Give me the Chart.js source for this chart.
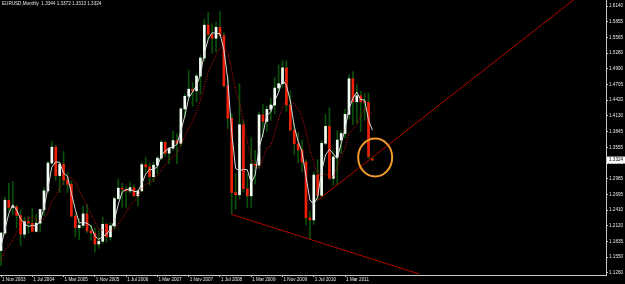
<!DOCTYPE html>
<html>
<head>
<meta charset="utf-8">
<title>EURUSD,Monthly</title>
<script src="https://cdn.jsdelivr.net/npm/chart.js@4.4.0/dist/chart.umd.min.js"></script>
<style>
  html, body { margin: 0; padding: 0; background: #000; }
  #wrap { position: relative; width: 625px; height: 284px; }
</style>
</head>
<body>
<div id="wrap"><canvas id="chart"></canvas></div>
<script>
// EURUSD monthly candles, one entry per month from Nov 2003 to Oct 2011
const header = 'EURUSD,Monthly  1.3344 1.3372 1.3313 1.3324';

const open = [
    1.1670, 1.1990,
    1.2590, 1.2460, 1.2470, 1.2310, 1.1970, 1.2200, 1.2170, 1.2020, 1.2170, 1.2420, 1.2760, 1.3270,
    1.3560, 1.3040, 1.3250, 1.2960, 1.2880, 1.2300, 1.2090, 1.2130, 1.2340, 1.2030, 1.1990, 1.1790,
    1.1840, 1.2150, 1.1920, 1.2120, 1.2620, 1.2810, 1.2790, 1.2760, 1.2820, 1.2670, 1.2760, 1.3240,
    1.3200, 1.3020, 1.3230, 1.3360, 1.3650, 1.3450, 1.3540, 1.3680, 1.3630, 1.4260, 1.4490, 1.4620,
    1.4590, 1.4860, 1.5190, 1.5790, 1.5620, 1.5550, 1.5750, 1.5600, 1.4680, 1.4090, 1.2730, 1.2690,
    1.3970, 1.2800, 1.2670, 1.3250, 1.3230, 1.4150, 1.4030, 1.4250, 1.4330, 1.4640, 1.4720, 1.5010,
    1.4330, 1.3870, 1.3620, 1.3510, 1.3290, 1.2270, 1.2230, 1.3050, 1.2680, 1.3630, 1.3940, 1.2990,
    1.3380, 1.3690, 1.3810, 1.4160, 1.4810, 1.4390, 1.4500, 1.4390, 1.4380, 1.3344
];
const high = [
    1.2000, 1.2650,
    1.2900, 1.2930, 1.2500, 1.2420, 1.2280, 1.2290, 1.2440, 1.2330, 1.2430, 1.2820, 1.3300, 1.3670,
    1.3590, 1.3280, 1.3480, 1.3100, 1.2940, 1.2350, 1.2260, 1.2480, 1.2510, 1.2140, 1.2080, 1.2040,
    1.2280, 1.2170, 1.2180, 1.2650, 1.2980, 1.2900, 1.2840, 1.2920, 1.2870, 1.2790, 1.3290, 1.3370,
    1.3270, 1.3290, 1.3390, 1.3680, 1.3660, 1.3550, 1.3850, 1.3810, 1.4280, 1.4530, 1.4970, 1.4750,
    1.4900, 1.5240, 1.5900, 1.6020, 1.5820, 1.5840, 1.6040, 1.5650, 1.4870, 1.4170, 1.3080, 1.4720,
    1.4060, 1.3070, 1.3740, 1.3500, 1.4200, 1.4340, 1.4310, 1.4450, 1.4840, 1.5060, 1.5140, 1.5140,
    1.4580, 1.3990, 1.3820, 1.3690, 1.3330, 1.2390, 1.3110, 1.3330, 1.3680, 1.4160, 1.4280, 1.3500,
    1.3860, 1.3860, 1.4250, 1.4880, 1.4940, 1.4700, 1.4580, 1.4550, 1.4550, 1.3372
];
const low = [
    1.1400, 1.1960,
    1.2390, 1.2320, 1.2080, 1.1760, 1.1900, 1.1990, 1.2010, 1.2010, 1.2010, 1.2310, 1.2730, 1.3250,
    1.2950, 1.2730, 1.2870, 1.2730, 1.2290, 1.1920, 1.1870, 1.2090, 1.1990, 1.1860, 1.1640, 1.1710,
    1.1800, 1.1820, 1.1860, 1.2070, 1.2600, 1.2460, 1.2460, 1.2720, 1.2660, 1.2480, 1.2750, 1.3100,
    1.2870, 1.2920, 1.3080, 1.3330, 1.3400, 1.3260, 1.3500, 1.3260, 1.3580, 1.4100, 1.4440, 1.4310,
    1.4380, 1.4530, 1.5130, 1.5520, 1.5280, 1.5300, 1.5570, 1.4660, 1.3900, 1.2330, 1.2420, 1.2620,
    1.2740, 1.2450, 1.2460, 1.2890, 1.3170, 1.3750, 1.3850, 1.4050, 1.4170, 1.4580, 1.4640, 1.4220,
    1.3860, 1.3430, 1.3270, 1.3110, 1.2140, 1.1876, 1.2150, 1.2590, 1.2640, 1.3600, 1.2970, 1.2860,
    1.2870, 1.3440, 1.3730, 1.4080, 1.3970, 1.4000, 1.3840, 1.4050, 1.3360, 1.3313
];
const close = [
    1.1990, 1.2590,
    1.2460, 1.2470, 1.2310, 1.1970, 1.2200, 1.2170, 1.2020, 1.2170, 1.2420, 1.2760, 1.3270, 1.3560,
    1.3040, 1.3250, 1.2960, 1.2880, 1.2300, 1.2090, 1.2130, 1.2340, 1.2030, 1.1990, 1.1790, 1.1840,
    1.2150, 1.1920, 1.2120, 1.2620, 1.2810, 1.2790, 1.2760, 1.2820, 1.2670, 1.2760, 1.3240, 1.3200,
    1.3020, 1.3230, 1.3360, 1.3650, 1.3450, 1.3540, 1.3680, 1.3630, 1.4260, 1.4490, 1.4620, 1.4590,
    1.4860, 1.5190, 1.5790, 1.5620, 1.5550, 1.5750, 1.5600, 1.4680, 1.4090, 1.2730, 1.2690, 1.3970,
    1.2800, 1.2670, 1.3250, 1.3230, 1.4150, 1.4030, 1.4250, 1.4330, 1.4640, 1.4720, 1.5010, 1.4330,
    1.3870, 1.3620, 1.3510, 1.3290, 1.2270, 1.2230, 1.3050, 1.2680, 1.3630, 1.3940, 1.2990, 1.3380,
    1.3690, 1.3810, 1.4160, 1.4810, 1.4390, 1.4500, 1.4390, 1.4380, 1.3390, 1.3324
];

// fast moving average (white line)
const maFast = [
    1.1743, 1.2057,
    1.2347, 1.2507, 1.2413, 1.2250, 1.2160, 1.2113, 1.2130, 1.2120, 1.2203, 1.2450, 1.2817, 1.3197,
    1.3290, 1.3283, 1.3083, 1.3030, 1.2713, 1.2423, 1.2173, 1.2187, 1.2167, 1.2120, 1.1937, 1.1873,
    1.1927, 1.1970, 1.2063, 1.2220, 1.2517, 1.2740, 1.2787, 1.2790, 1.2750, 1.2750, 1.2890, 1.3067,
    1.3153, 1.3150, 1.3203, 1.3413, 1.3487, 1.3547, 1.3557, 1.3617, 1.3857, 1.4127, 1.4457, 1.4567,
    1.4690, 1.4880, 1.5280, 1.5533, 1.5653, 1.5640, 1.5633, 1.5343, 1.4790, 1.3833, 1.3170, 1.3130,
    1.3153, 1.3147, 1.2907, 1.3050, 1.3543, 1.3803, 1.4143, 1.4203, 1.4407, 1.4563, 1.4790, 1.4687,
    1.4403, 1.3940, 1.3667, 1.3473, 1.3023, 1.2597, 1.2517, 1.2653, 1.3120, 1.3417, 1.3520, 1.3437,
    1.3353, 1.3627, 1.3887, 1.4260, 1.4453, 1.4567, 1.4427, 1.4423, 1.4053, 1.3870
];
// slow moving average (red dotted line)
const maSlow = [
    1.1486, 1.1666,
    1.1748, 1.1870, 1.2004, 1.2129, 1.2198, 1.2270, 1.2274, 1.2221, 1.2216, 1.2253, 1.2373, 1.2571,
    1.2676, 1.2811, 1.2929, 1.3018, 1.3003, 1.2919, 1.2776, 1.2624, 1.2498, 1.2340, 1.2194, 1.2064,
    1.2045, 1.2024, 1.2023, 1.2058, 1.2155, 1.2255, 1.2376, 1.2499, 1.2564, 1.2669, 1.2809, 1.2881,
    1.2908, 1.2963, 1.3038, 1.3141, 1.3239, 1.3336, 1.3391, 1.3445, 1.3600, 1.3758, 1.3915, 1.4033,
    1.4209, 1.4415, 1.4679, 1.4928, 1.5089, 1.5246, 1.5369, 1.5380, 1.5284, 1.4976, 1.4589, 1.4383,
    1.4039, 1.3654, 1.3360, 1.3179, 1.3186, 1.3349, 1.3544, 1.3589, 1.3819, 1.4075, 1.4295, 1.4433,
    1.4398, 1.4346, 1.4254, 1.4124, 1.3828, 1.3516, 1.3271, 1.3065, 1.3035, 1.3075, 1.3010, 1.3021,
    1.3199, 1.3396, 1.3535, 1.3801, 1.3896, 1.3966, 1.4141, 1.4268, 1.4230, 1.4169
];

// hand drawn trend lines: [bar index, price]
const trendLow = [[59, 1.2330], [107, 1.1240]];
const trendUp = [[81, 1.2590], [148, 1.6340]];
// orange circle around the last bars
const circleCenter = [95.7, 1.3371];
const lastPrice = 1.3324;

const xTickPos = [0, 8, 16, 24, 32, 40, 48, 56, 64, 72, 80, 88];
const xTickLabels = ['1 Nov 2003', '1 Jul 2004', '1 Mar 2005', '1 Nov 2005', '1 Jul 2006', '1 Mar 2007',
    '1 Nov 2007', '1 Jul 2008', '1 Mar 2009', '1 Nov 2009', '1 Jul 2010', '1 Mar 2011'];
const yTicks = [1.6140, 1.5855, 1.5565, 1.5280, 1.4990, 1.4705, 1.4420, 1.4130, 1.3845,
    1.3555, 1.3270, 1.2985, 1.2695, 1.2410, 1.2120, 1.1835, 1.1550, 1.1260];

const BULL = '#f2fff2';
const BEAR = '#f02008';
const WICK = '#0a4f0a';
const FONT = 'Liberation Sans';

function bodyColor(ctx) {
    const i = ctx.dataIndex;
    return close[i] >= open[i] ? BULL : BEAR;
}

// no label padding: the plot runs from x=0 to the price scale
function noPadding(s) {
    s.paddingLeft = 0;
    s.paddingRight = 0;
    s.paddingTop = 0;
    s.paddingBottom = 0;
}

const wicks = high.map((h, i) => ({ x: i, y: [low[i], h] }));
const bodies = open.map((o, i) => ({ x: i, y: [o, close[i]] }));
const fastPts = maFast.map((v, i) => ({ x: i, y: v }));
const slowPts = maSlow.map((v, i) => ({ x: i, y: v }));
const toPts = arr => arr.map(p => ({ x: p[0], y: p[1] }));

const overlay = {
    id: 'overlay',
    afterDraw(chart) {
        const ctx = chart.ctx;
        const xs = chart.scales.x, ys = chart.scales.y;
        const area = chart.chartArea;
        ctx.save();

        // circle
        ctx.beginPath();
        ctx.ellipse(xs.getPixelForValue(circleCenter[0]), ys.getPixelForValue(circleCenter[1]), 17, 19, 0, 0, Math.PI * 2);
        ctx.strokeStyle = '#f39a2a';
        ctx.lineWidth = 2;
        ctx.stroke();

        // header text
        ctx.font = '4.6px "' + FONT + '"';
        ctx.fillStyle = '#e6e6e6';
        ctx.textBaseline = 'top';
        ctx.textAlign = 'left';
        ctx.fillText(header, 2, 1);

        // current price box on the price scale
        const py = ys.getPixelForValue(lastPrice);
        ctx.fillStyle = '#ffffff';
        ctx.fillRect(area.right + 1, py - 3.5, 18, 7);
        ctx.fillStyle = '#000000';
        ctx.textBaseline = 'middle';
        ctx.fillText(lastPrice.toFixed(4), area.right + 3, py);
        ctx.restore();
    }
};

new Chart(document.getElementById('chart'), {
    type: 'bar',
    data: {
        datasets: [
            { type: 'line', data: toPts(trendLow), borderColor: '#b40000', borderWidth: 1, pointRadius: 0, order: 0 },
            { type: 'line', data: toPts(trendUp), borderColor: '#b40000', borderWidth: 1, pointRadius: 0, order: 0 },
            { type: 'line', data: fastPts, borderColor: '#d8d8d8', borderWidth: 1, pointRadius: 0, order: 1 },
            { type: 'line', data: slowPts, borderColor: '#e01010', borderWidth: 1, borderDash: [1, 1.5], pointRadius: 0, order: 2 },
            { data: bodies, backgroundColor: bodyColor, barThickness: 2, minBarLength: 1, grouped: false, order: 3 },
            { data: wicks, backgroundColor: WICK, barThickness: 1, grouped: false, order: 4 }
        ]
    },
    options: {
        responsive: true,
        maintainAspectRatio: false,
        devicePixelRatio: 1,
        animation: false,
        layout: { padding: 0 },
        plugins: {
            legend: { display: false },
            tooltip: { enabled: false },
            title: { display: false }
        },
        scales: {
            x: {
                type: 'linear',
                offset: false,
                min: -0.26,
                max: 154.74,
                afterBuildTicks: s => { s.ticks = xTickPos.map(v => ({ value: v })); },
                afterFit: s => { s.height = 9; noPadding(s); },
                ticks: {
                    autoSkip: false,
                    maxRotation: 0,
                    align: 'start',
                    labelOffset: 1,
                    padding: 0,
                    color: '#e6e6e6',
                    font: { family: FONT, size: 4.6 },
                    callback: (v, i) => xTickLabels[i]
                },
                grid: { display: true, drawOnChartArea: false, offset: false, tickLength: 2, color: '#c8c8c8' },
                border: { color: '#c8c8c8' }
            },
            y: {
                position: 'right',
                min: 1.1223,
                max: 1.6250,
                afterBuildTicks: s => { s.ticks = yTicks.map(v => ({ value: v })); },
                afterFit: s => { s.width = 19; noPadding(s); },
                ticks: {
                    padding: 1,
                    color: '#e6e6e6',
                    font: { family: FONT, size: 4.6 },
                    callback: v => v.toFixed(4)
                },
                grid: { display: true, drawOnChartArea: false, tickLength: 2, color: '#c8c8c8' },
                border: { color: '#c8c8c8' }
            }
        }
    },
    plugins: [overlay]
});
</script>
</body>
</html>
